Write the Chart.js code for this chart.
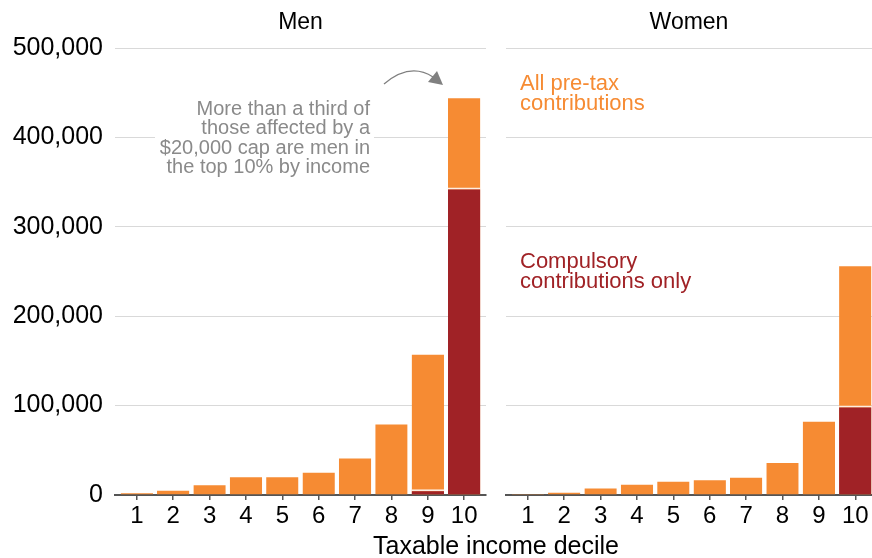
<!DOCTYPE html>
<html>
<head>
<meta charset="utf-8">
<script src="https://cdn.jsdelivr.net/npm/chart.js@4.4.0/dist/chart.umd.min.js"></script>
<style>
    html, body { margin: 0; padding: 0; background: #fff; }
    #wrap { position: relative; width: 872px; height: 558px; overflow: hidden; }
    #menBox { position: absolute; left: 0; top: 0; width: 490px; height: 558px; }
    #womenBox { position: absolute; left: 490px; top: 0; width: 382px; height: 558px; }
    #xTitle {
        position: absolute; left: 0; top: 533px; width: 992px; text-align: center;
        font: 25px "Liberation Sans", Arial, sans-serif; line-height: 25px; color: #000;
    }
</style>
</head>
<body>
<div id="wrap">
    <div id="menBox"><canvas id="menChart"></canvas></div>
    <div id="womenBox"><canvas id="womenChart"></canvas></div>
    <div id="xTitle">Taxable income decile</div>
</div>

<script>
// data
const deciles = [1, 2, 3, 4, 5, 6, 7, 8, 9, 10];
const menAllPreTax = [3000, 6000, 12000, 21000, 21000, 26000, 42000, 80000, 158000, 445000];
const menCompulsory = [0, 0, 0, 0, 0, 0, 0, 0, 6500, 344000];
const womenAllPreTax = [1500, 3500, 8500, 12500, 16000, 17500, 20500, 37000, 83000, 257000];
const womenCompulsory = [0, 0, 0, 0, 0, 0, 0, 0, 0, 100000];
const yTicks = [0, 100000, 200000, 300000, 400000, 500000];

(function () {
    const ORANGE = '#F68B33';
    const RED = '#A02226';
    const GRID = '#d9d9d9';
    const AXIS = '#555555';
    const FONT = '"Liberation Sans", Arial, sans-serif';

    Chart.defaults.font.family = FONT;
    Chart.defaults.color = '#000';

    // Helper: pair decile with value for the linear x axis
    function points(values) {
        return deciles.map((d, i) => ({ x: d, y: values[i] }));
    }

    function datasets(allValues, compValues) {
        // first dataset is drawn last, so the red sits over the orange
        return [
            {
                label: 'Compulsory contributions only',
                data: points(compValues),
                backgroundColor: RED,
                borderColor: 'rgba(255,255,255,0.85)',
                borderWidth: { top: 2, left: 0, right: 0, bottom: 0 },
                grouped: false,
                categoryPercentage: 1,
                barPercentage: 0.89
            },
            {
                label: 'All pre-tax contributions',
                data: points(allValues),
                backgroundColor: ORANGE,
                borderColor: 'rgba(255,255,255,0.45)',
                borderWidth: { top: 1, left: 0, right: 0, bottom: 0 },
                grouped: false,
                categoryPercentage: 1,
                barPercentage: 0.89
            }
        ];
    }

    // ---------------------------
    // Text overlays drawn after the chart
    // ---------------------------
    const overlayPlugin = {
        id: 'overlay',
        afterDraw(chart, args, opts) {
            const ctx = chart.ctx;
            const area = chart.chartArea;
            ctx.save();
            // panel title
            ctx.fillStyle = '#000';
            ctx.font = '23px ' + FONT;
            ctx.textAlign = 'center';
            ctx.textBaseline = 'alphabetic';
            ctx.fillText(opts.title, (area.left + area.right) / 2, 29);
            if (opts.draw) opts.draw(chart, ctx);
            ctx.restore();
        }
    };

    function drawMenNote(chart, ctx) {
        const lines = ['More than a third of', 'those affected by a', '$20,000 cap are men in', 'the top 10% by income'];
        ctx.font = '20px ' + FONT;
        ctx.textAlign = 'right';
        // white box so the grid line stops behind the note
        ctx.fillStyle = '#fff';
        ctx.fillRect(155, 98, 219, 80);
        ctx.fillStyle = '#8a8a8a';
        lines.forEach((t, i) => ctx.fillText(t, 370, 115 + i * 19.4));

        // curved arrow toward the top decile
        ctx.strokeStyle = '#808080';
        ctx.fillStyle = '#808080';
        ctx.lineWidth = 1.3;
        ctx.beginPath();
        ctx.moveTo(384, 84);
        ctx.quadraticCurveTo(410, 62, 433, 77);
        ctx.stroke();
        ctx.beginPath();
        ctx.moveTo(443, 85);
        ctx.lineTo(428, 82);
        ctx.lineTo(437, 71);
        ctx.closePath();
        ctx.fill();
    }

    function drawWomenLabels(chart, ctx) {
        ctx.font = '22px ' + FONT;
        ctx.textAlign = 'left';
        ctx.fillStyle = ORANGE;
        ctx.fillText('All pre-tax', 30, 90);
        ctx.fillText('contributions', 30, 110);
        ctx.fillStyle = RED;
        ctx.fillText('Compulsory', 30, 268);
        ctx.fillText('contributions only', 30, 288);
    }

    // ---------------------------
    // Build one panel
    // ---------------------------
    function makePanel(canvasId, allValues, compValues, cfg) {
        const ctx = document.getElementById(canvasId).getContext('2d');
        return new Chart(ctx, {
            type: 'bar',
            data: { datasets: datasets(allValues, compValues) },
            plugins: [overlayPlugin],
            options: {
                responsive: true,
                maintainAspectRatio: false,
                animation: false,
                layout: { padding: { top: 48, right: cfg.padRight, bottom: 0, left: 0 } },
                plugins: {
                    legend: { display: false },
                    tooltip: { enabled: false },
                    overlay: { title: cfg.title, draw: cfg.draw }
                },
                scales: {
                    x: {
                        type: 'linear',
                        min: 0.4,
                        max: cfg.xMax,
                        offset: false,
                        afterBuildTicks: s => { s.ticks = deciles.map(v => ({ value: v })); },
                        afterFit: s => { s.height = 63; },
                        grid: { display: true, offset: false, drawOnChartArea: false, drawTicks: true, tickLength: 5, color: AXIS, lineWidth: 1.5 },
                        border: { display: true, color: AXIS, width: 2 },
                        ticks: { font: { size: 24 }, color: '#000', padding: 2, maxRotation: 0, autoSkip: false }
                    },
                    y: {
                        min: 0,
                        max: 500000,
                        afterBuildTicks: s => { s.ticks = yTicks.map(v => ({ value: v })); },
                        afterFit: s => { s.width = cfg.yWidth; },
                        grid: { color: GRID, lineWidth: 1, drawTicks: false },
                        border: { display: false },
                        ticks: {
                            display: cfg.showY,
                            font: { size: 25 },
                            color: '#000',
                            padding: 12,
                            callback: v => Number(v).toLocaleString('en-US')
                        }
                    }
                }
            }
        });
    }

    makePanel('menChart', menAllPreTax, menCompulsory, {
        title: 'Men', padRight: 4, xMax: 10.6, yWidth: 115, showY: true, draw: drawMenNote
    });
    makePanel('womenChart', womenAllPreTax, womenCompulsory, {
        title: 'Women', padRight: 0, xMax: 10.46, yWidth: 16, showY: false, draw: drawWomenLabels
    });
})();
</script>
</body>
</html>
